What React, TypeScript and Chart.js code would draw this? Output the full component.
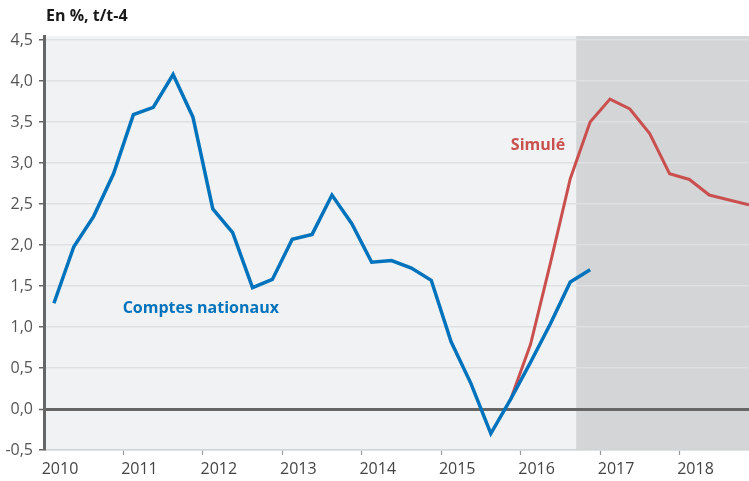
import React, { useEffect, useRef } from "react";
import { Chart, registerables } from "chart.js";

Chart.register(...registerables);

// Quarterly data, 2010Q1 .. 2018Q4
const startYear = 2010;
const comptesNationaux = [
  1.29, 1.98, 2.35, 2.87, 3.59, 3.68, 4.08, 3.56, 2.44, 2.15, 1.48, 1.58,
  2.07, 2.13, 2.61, 2.26, 1.79, 1.81, 1.72, 1.57, 0.82, 0.31, -0.3, 0.12,
  0.57, 1.04, 1.55, 1.7,
];
// Simulé starts at 2015Q4 (quarter index 23)
const simuleStartIndex = 23;
const simule = [0.12, 0.79, 1.78, 2.81, 3.5, 3.78, 3.66, 3.36, 2.87, 2.8, 2.61, 2.55, 2.49];
const yearTicks = [2010, 2011, 2012, 2013, 2014, 2015, 2016, 2017, 2018];
const yTicks = [-0.5, 0, 0.5, 1, 1.5, 2, 2.5, 3, 3.5, 4, 4.5];
const forecastStart = 2016.7;
const title = "En %, t/t-4";
const labelComptes = "Comptes nationaux";
const labelSimule = "Simulé";

const FONT = "'Open Sans', 'Noto Sans', sans-serif";

const qx = (i: number) => startYear + (i + 0.5) / 4;

export default function App() {
  const ref = useRef<HTMLCanvasElement | null>(null);

  useEffect(() => {
    document.body.style.margin = "0";
    const canvas = ref.current;
    if (!canvas) return;

    const bgPlugin = {
      id: "bgPlugin",
      beforeDraw(chart: any) {
        const { ctx, chartArea, scales } = chart;
        const x0 = scales.x.getPixelForValue(forecastStart);
        ctx.save();
        ctx.fillStyle = "#f1f2f4";
        ctx.fillRect(chartArea.left, chartArea.top, chartArea.right - chartArea.left, chartArea.bottom - chartArea.top);
        ctx.fillStyle = "#d4d5d7";
        ctx.fillRect(x0, chartArea.top, chartArea.right - x0, chartArea.bottom - chartArea.top);
        ctx.restore();
      },
      afterDraw(chart: any) {
        const { ctx, scales } = chart;
        ctx.save();
        ctx.textBaseline = "middle";
        ctx.fillStyle = "#1a1a1a";
        ctx.font = `bold 16px ${FONT}`;
        ctx.textAlign = "left";
        ctx.fillText(title, 46, 16);
        ctx.fillStyle = "#0073bc";
        ctx.font = `bold 16px ${FONT}`;
        ctx.fillText(labelComptes, scales.x.getPixelForValue(2010.99), scales.y.getPixelForValue(1.23));
        ctx.fillStyle = "#c9504f";
        ctx.textAlign = "right";
        ctx.fillText(labelSimule, scales.x.getPixelForValue(2016.56), scales.y.getPixelForValue(3.22));
        ctx.restore();
      },
    };

    const chart = new Chart(canvas, {
      type: "line",
      data: {
        datasets: [
          {
            label: labelComptes,
            data: comptesNationaux.map((v, i) => ({ x: qx(i), y: v })),
            borderColor: "#0073bc",
            borderWidth: 3.5,
            pointRadius: 0,
            tension: 0,
            fill: false,
          },
          {
            label: labelSimule,
            data: simule.map((v, i) => ({ x: qx(i + simuleStartIndex), y: v })),
            borderColor: "#c9504f",
            borderWidth: 3,
            pointRadius: 0,
            tension: 0,
            fill: false,
          },
        ],
      },
      options: {
        animation: false,
        responsive: false,
        events: [],
        layout: { padding: { top: 36, left: 0, right: 0, bottom: 0 } },
        plugins: {
          legend: { display: false },
          tooltip: { enabled: false },
          title: { display: false },
        },
        scales: {
          x: {
            type: "linear",
            min: 2010,
            max: 2018.875,
            afterBuildTicks: (s: any) => {
              s.ticks = yearTicks.map((v) => ({ value: v }));
            },
            afterFit: (s: any) => {
              s.height = 31;
            },
            grid: {
              drawOnChartArea: false,
              drawTicks: true,
              tickLength: 5,
              tickColor: (c: any) => (c.tick && c.tick.value === 2010 ? "rgba(0,0,0,0)" : "#9a9a9a"),
              tickWidth: 1.2,
            },
            border: { display: true, color: "#d2d3d5", width: 1.5 },
            ticks: {
              autoSkip: false,
              maxRotation: 0,
              labelOffset: 16,
              padding: 5,
              color: "#444",
              font: { family: FONT, size: 16 },
              callback: (v: any) => String(v),
            },
          },
          y: {
            type: "linear",
            min: -0.5,
            max: 4.55,
            afterBuildTicks: (s: any) => {
              s.ticks = yTicks.map((v) => ({ value: v }));
            },
            afterFit: (s: any) => {
              s.width = 44;
            },
            grid: {
              color: (c: any) => (c.tick && c.tick.value === 0 ? "#666666" : "#dfe0e2"),
              lineWidth: (c: any) => (c.tick && c.tick.value === 0 ? 3 : 1.5),
              drawTicks: true,
              tickLength: 5,
              tickColor: "#666666",
              tickWidth: 1.5,
            },
            border: { display: true, color: "#666666", width: 3 },
            ticks: {
              padding: 6,
              color: "#555",
              font: { family: FONT, size: 16 },
              callback: (v: any) => Number(v).toFixed(1).replace(".", ","),
            },
          },
        },
      },
      plugins: [bgPlugin],
    });

    return () => chart.destroy();
  }, []);

  return (
    <div style={{ width: 749, height: 481 }}>
      <canvas ref={ref} width={749} height={481} style={{ width: 749, height: 481, display: "block" }} />
    </div>
  );
}
